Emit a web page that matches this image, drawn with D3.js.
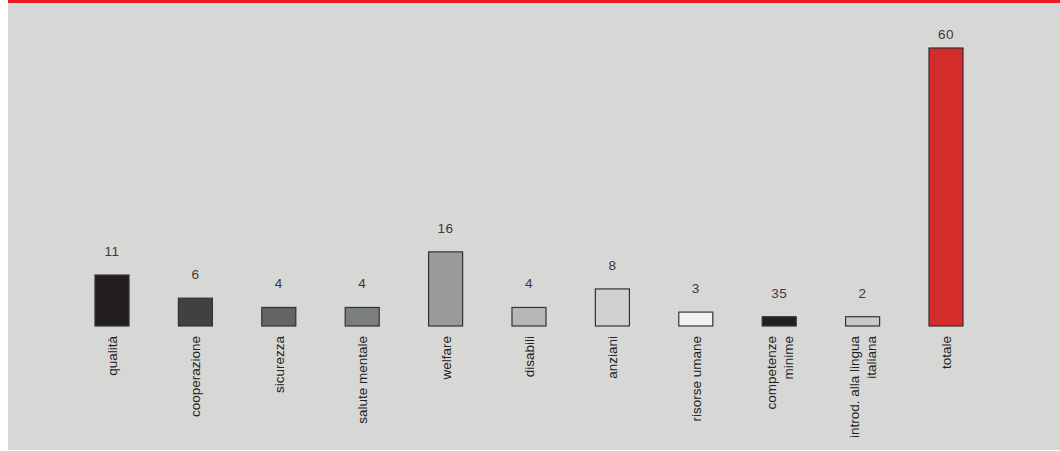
<!DOCTYPE html>
<html>
<head>
<meta charset="utf-8">
<script src="https://cdn.jsdelivr.net/npm/d3@7"></script>
<style>
    body { margin: 0; background: #fff; }
    svg { display: block; }
</style>
</head>
<body>
<div id="chart"></div>
<script>
// categories (multi-line labels split by \n)
const categories = ["qualità", "cooperazione", "sicurezza", "salute mentale", "welfare", "disabili",
    "anziani", "risorse umane", "competenze\nminime", "introd. alla lingua\nitaliana", "totale"];
// bar heights as drawn in the picture
const values = [11, 6, 4, 4, 16, 4, 8, 3, 2, 2, 60];
// number printed above each bar
const valueLabels = ["11", "6", "4", "4", "16", "4", "8", "3", "35", "2", "60"];
const colors = ["#231f20", "#414042", "#636466", "#7b7f7d", "#9a9b9d", "#b6b7b9",
    "#d0d1d3", "#f1f1f3", "#231f20", "#c8c9cb", "#d42b2b"];

const W = 1060, H = 451;

let svg = d3.select('#chart')
    .append('svg')
    .attr('width', W)
    .attr('height', H);

// panel background and red top band
svg.append('rect')
    .attr('x', 8).attr('y', 0)
    .attr('width', W - 8).attr('height', 450)
    .attr('fill', '#d7d7d5');
svg.append('rect')
    .attr('x', 8).attr('y', 0)
    .attr('width', W - 8).attr('height', 3)
    .attr('fill', '#ed1c24');

let xScale = d3.scaleBand()
    .domain(categories)
    .range([70.3, 987.7])
    .paddingInner(0.592)
    .paddingOuter(0.296);

let yScale = d3.scaleLinear()
    .domain([0, 60])
    .range([326, 48]);

const data = categories.map((c, i) => ({cat: c, value: values[i], label: valueLabels[i], color: colors[i]}));

// faint baseline
svg.append('line')
    .attr('x1', 60).attr('x2', 1000)
    .attr('y1', yScale(0)).attr('y2', yScale(0))
    .attr('stroke', '#dcdcda')
    .attr('stroke-width', 1);

svg.selectAll('.bar')
    .data(data)
    .enter()
    .append('rect')
    .attr('class', 'bar')
    .attr('x', d => xScale(d.cat))
    .attr('y', d => yScale(d.value))
    .attr('width', xScale.bandwidth())
    .attr('height', d => yScale(0) - yScale(d.value))
    .attr('fill', d => d.color)
    .attr('stroke', '#333')
    .attr('stroke-width', 1.2);

svg.selectAll('.val')
    .data(data)
    .enter()
    .append('text')
    .attr('class', 'val')
    .attr('x', d => xScale(d.cat) + xScale.bandwidth() / 2)
    .attr('y', d => Math.max(yScale(d.value) - 19, 39))
    .attr('text-anchor', 'middle')
    .style('font-family', 'Liberation Sans, Arial, sans-serif')
    .style('font-size', '13.5px')
    .style('letter-spacing', '0.5px')
    .style('fill', '#3a3a3a')
    .text(d => d.label);

// rotated category labels
let catLabels = svg.selectAll('.cat')
    .data(data)
    .enter()
    .append('text')
    .attr('class', 'cat')
    .attr('transform', d => `translate(${xScale(d.cat) + xScale.bandwidth() / 2}, 336) rotate(-90)`)
    .attr('text-anchor', 'end')
    .style('font-family', 'Liberation Sans, Arial, sans-serif')
    .style('font-size', '13.5px')
    .style('fill', '#222');

catLabels.each(function (d) {
    const lines = d.cat.split('\n');
    const lh = 17;
    const start = -(lines.length - 1) * lh / 2 + 5;
    d3.select(this).selectAll('tspan')
        .data(lines)
        .enter()
        .append('tspan')
        .attr('x', 0)
        .attr('y', (l, i) => start + i * lh)
        .text(l => l);
});
</script>
</body>
</html>
